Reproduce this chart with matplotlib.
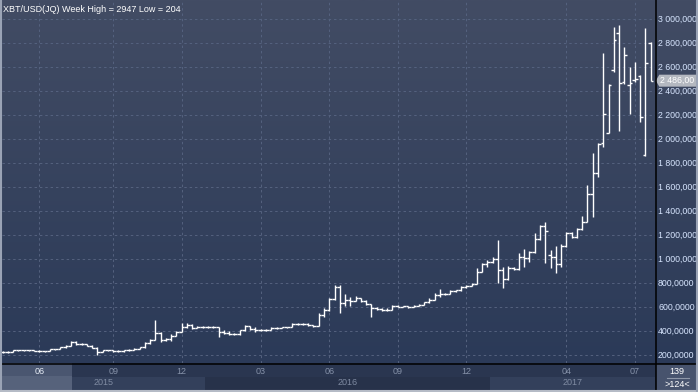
import matplotlib
matplotlib.use("Agg")
import matplotlib.pyplot as plt
import numpy as np
from matplotlib.patches import Polygon, Rectangle

plt.rcParams["font.family"] = ["Liberation Sans", "DejaVu Sans"]

# weekly OHLC, XBT/USD
opens = [225, 229, 224, 240, 241, 240, 242, 237, 231, 233, 250, 249, 264, 276, 310, 290, 288, 279, 262, 229,
         241, 240, 233, 232, 240, 241, 253, 263, 301, 325, 380, 325, 330, 362, 395, 432, 452, 428, 432, 430,
         434, 432, 389, 382, 378, 372, 405, 438, 418, 410, 408, 412, 425, 428, 430, 432, 458, 455, 460, 448,
         441, 530, 575, 665, 770, 636, 662, 650, 675, 652, 622, 589, 585, 578, 575, 610, 603, 606, 600, 610,
         618, 638, 660, 700, 705, 712, 735, 740, 770, 776, 792, 895, 962, 975, 1000, 905, 830, 925, 918, 1019,
         1005, 1061, 1164, 1275, 1030, 1019, 958, 1108, 1220, 1180, 1247, 1311, 1539, 1714, 1964, 2053, 2575, 2886, 2475, 2450,
         2489, 2528, 1867, 2797]
highs = [234, 232, 243, 244, 245, 244, 243, 238, 236, 252, 254, 268, 280, 318, 316, 296, 292, 282, 265, 243,
         244, 243, 238, 242, 246, 255, 266, 305, 330, 491, 392, 340, 372, 402, 470, 465, 456, 440, 438, 442,
         438, 436, 405, 402, 382, 410, 452, 445, 432, 416, 416, 432, 432, 435, 436, 470, 466, 464, 465, 452,
         553, 590, 675, 783, 783, 705, 686, 688, 678, 655, 625, 603, 592, 590, 618, 620, 612, 610, 614, 626,
         645, 672, 715, 747, 716, 742, 745, 778, 780, 800, 925, 970, 995, 1018, 1158, 936, 940, 935, 1047, 1080,
         1069, 1214, 1283, 1311, 1075, 1108, 1122, 1228, 1228, 1256, 1358, 1617, 1886, 1964, 2719, 2458, 2931, 2947, 2769, 2603,
         2639, 2533, 2922, 2806]
lows = [220, 219, 222, 234, 236, 235, 233, 226, 225, 230, 245, 248, 262, 272, 284, 281, 275, 256, 204, 226,
        232, 228, 226, 229, 236, 238, 250, 260, 295, 322, 312, 316, 320, 355, 390, 425, 418, 422, 424, 425,
        422, 353, 375, 368, 366, 370, 400, 410, 395, 400, 402, 410, 418, 422, 424, 430, 450, 448, 445, 436,
        438, 520, 570, 655, 553, 608, 608, 648, 640, 615, 514, 575, 568, 565, 572, 598, 598, 592, 596, 605,
        615, 630, 655, 686, 698, 706, 728, 736, 762, 772, 790, 890, 935, 968, 803, 755, 825, 905, 910, 936,
        978, 1047, 1158, 964, 922, 880, 936, 1103, 1172, 1175, 1242, 1305, 1353, 1686, 1931, 2053, 2561, 2069, 2458, 2208,
        2478, 2144, 1858, 2486]
closes = [229, 224, 240, 241, 240, 242, 237, 231, 233, 250, 249, 264, 276, 310, 290, 288, 279, 262, 229, 241,
          240, 233, 232, 240, 241, 253, 263, 301, 325, 380, 325, 330, 362, 395, 432, 452, 428, 432, 430, 434,
          432, 389, 382, 378, 372, 405, 438, 418, 410, 408, 412, 425, 428, 430, 432, 458, 455, 460, 448, 441,
          530, 575, 665, 770, 636, 662, 650, 675, 652, 622, 589, 585, 578, 575, 610, 603, 606, 600, 610, 618,
          638, 660, 700, 705, 712, 735, 740, 770, 776, 792, 895, 962, 975, 1000, 905, 830, 925, 918, 1019, 1005,
          1061, 1164, 1275, 1230, 1019, 958, 1108, 1220, 1180, 1247, 1311, 1539, 1714, 1958, 2205, 2450, 2825, 2464, 2700, 2469,
          2497, 2180, 2631, 2486]

# x axis: first bar of each month shown, and year blocks
month_pos = [7, 21, 34, 49, 62, 75, 88, 107, 120]
month_labels = ["06", "09", "12", "03", "06", "09", "12", "04", "07"]
year_labels = ["2015", "2016", "2017"]
year_edges = [-0.1, 38.5, 92.5, 123.8]

# price scale, as much of each label as fits on screen
y_ticks = list(range(200, 3001, 200))
y_labels = ["200,0000", "400,0000", "600,0000", "800,0000", "1 000,000", "1 200,000", "1 400,000",
            "1 600,000", "1 800,000", "2 000,000", "2 200,000", "2 400,000", "2 600,000",
            "2 800,000", "3 000,000"]
last_label = "2 486,00"

W, H = 698, 392
BAR_W = 5.27
X0 = 2.5
FS = 6.3


def px_box(x0, y0, x1, y1):
    return [x0 / W, 1 - y1 / H, (x1 - x0) / W, (y1 - y0) / H]


fig = plt.figure(figsize=(W / 100, H / 100), dpi=100)
fig.patch.set_facecolor("#2a3650")

# background gradient behind plot + price scale
bg = fig.add_axes(px_box(0, 0, W, 363))
grad = np.linspace(0, 1, 256)[:, None]
top = np.array([0x42, 0x4c, 0x64]) / 255
bot = np.array([0x2b, 0x3a, 0x58]) / 255
img = top[None, None, :] * (1 - grad[..., None]) + bot[None, None, :] * grad[..., None]
bg.imshow(img, aspect="auto", extent=[0, 1, 0, 1])
bg.axis("off")

xlim = ((2 - X0) / BAR_W, (655 - X0) / BAR_W)
ylim = (3000 - 344 / 0.12, 3000 + 19 / 0.12)

ax = fig.add_axes(px_box(2, 0, 655, 363))
ax.patch.set_alpha(0)
ax.set_xlim(*xlim)
ax.set_ylim(*ylim)
ax.set_xticks(month_pos)
ax.set_yticks(y_ticks)
ax.grid(True, color="#55627f", lw=0.7, ls=(0, (2.5, 3)))
ax.tick_params(length=0, labelbottom=False, labelleft=False)
for s in ax.spines.values():
    s.set_visible(False)

x = np.arange(len(opens))
ax.vlines(x, lows, highs, color="white", lw=1.0)
ax.hlines(opens, x - 0.5, x, color="white", lw=1.0)
ax.hlines(closes, x, x + 0.5, color="white", lw=1.0)

fig.text(3 / W, 1 - 10 / H, "XBT/USD(JQ) Week High = 2947 Low = 204", color="white",
         fontsize=6.5, va="center", ha="left")

# price scale on the right
axr = fig.add_axes(px_box(655, 0, W, 363))
axr.patch.set_alpha(0)
axr.set_ylim(*ylim)
axr.set_xlim(0, 1)
axr.axis("off")
for v, lab in zip(y_ticks, y_labels):
    axr.text(0.07, v, lab, color="#d8e6ff", fontsize=FS, va="center", ha="left", clip_on=False)
last = closes[-1]
hh = 6 / 0.12
axr.add_patch(Polygon([[0.02, last], [0.1, last + hh], [1.0, last + hh], [1.0, last - hh], [0.1, last - hh]],
                      closed=True, fc="#b4b8c0", ec="none", zorder=3))
axr.text(0.12, last, last_label, color="white", fontsize=FS, va="center", ha="left", zorder=4,
         clip_on=False)

# time axis band
axb = fig.add_axes(px_box(2, 363, 655, 390))
axb.set_facecolor("#29354e")
axb.set_xlim(*xlim)
axb.set_ylim(0, 1)
axb.axis("off")
year_cols = ["#33405b", "#27324a", "#33405b"]
for k in range(3):
    axb.add_patch(Rectangle((year_edges[k], 0), year_edges[k + 1] - year_edges[k], 0.48,
                            fc=year_cols[k], ec="none"))
    axb.text((year_edges[k] + year_edges[k + 1]) / 2, 0.26, year_labels[k], color="#7f8ba2",
             fontsize=6.5, ha="center", va="center")
# scroll thumb
axb.add_patch(Rectangle((xlim[0], 0.52), (72 - 2) / BAR_W, 0.48, fc="#4a5670", ec="none"))
axb.add_patch(Rectangle((xlim[0], 0), (72 - 2) / BAR_W, 0.52, fc="#56627b", ec="none"))
for p, lab in zip(month_pos, month_labels):
    col = "#e6ecf5" if p == month_pos[0] else "#8591a8"
    axb.text(p, 0.68, lab, color=col, fontsize=6.5, ha="center", va="center")

# corner box
axc = fig.add_axes(px_box(656, 364, W, 392))
axc.set_facecolor("#47536d")
axc.set_xlim(0, 1)
axc.set_ylim(0, 1)
axc.set_xticks([])
axc.set_yticks([])
for s in axc.spines.values():
    s.set_visible(False)
axc.text(0.5, 0.74, "139", color="white", fontsize=6.5, ha="center", va="center")
axc.plot([0.25, 0.78], [0.5, 0.5], color="#8e97a8", lw=0.8)
axc.text(0.5, 0.27, ">124<", color="white", fontsize=6.5, ha="center", va="center")

# frame lines
over = fig.add_axes([0, 0, 1, 1])
over.patch.set_alpha(0)
over.set_xlim(0, W)
over.set_ylim(H, 0)
over.axis("off")
over.plot([655.5, 655.5], [0, 390], color="black", lw=1.1)
over.plot([0, W], [363.5, 363.5], color="black", lw=1.1)
over.plot([1, 1], [0, H], color="#9aa3b5", lw=1.5)
over.plot([0, W], [391, 391], color="#b5bbc6", lw=1.5)
over.plot([697, 697], [0, H], color="#9aa3b5", lw=1.5)

fig.savefig("out.png", dpi=100)
